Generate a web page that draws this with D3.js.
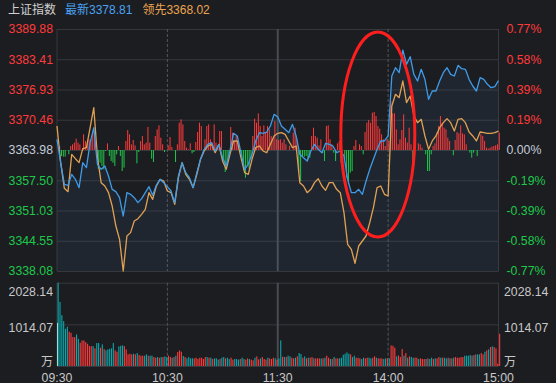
<!DOCTYPE html>
<html><head><meta charset="utf-8">
<script src="https://cdn.jsdelivr.net/npm/d3@7"></script>
<style>
html,body{margin:0;padding:0;background:#1c1d21;}
svg{display:block;}
text{font-family:"Liberation Sans",Arial,"Noto Sans CJK SC",sans-serif;}
</style></head><body>
<svg id="c" width="556" height="383"></svg>
<script>
// ---------- data ----------
const title = "上证指数";
const lastPrice = 3378.81;
const leadPrice = 3368.02;
const priceTicks = [3389.88,3383.41,3376.93,3370.46,3363.98,3357.50,3351.03,3344.55,3338.08];
const pctTicks = ["0.77%","0.58%","0.39%","0.19%","0.00%","-0.19%","-0.39%","-0.58%","-0.77%"];
const timeLabels = ["09:30","10:30","11:30","14:00","15:00"];
const timeTickMinutes = [0,60,120,180,240];
const volTicks = [2028.14,1014.07];
const volUnit = "万";
// price (最新) and lead (领先) every 2 trading minutes, t = 0,2,...,240
const price = [
3366.26,3361.27,3356.63,3356.42,3358.77,3357.70,3355.92,3361.27,3360.20,3365.55,
3368.76,3360.91,3359.84,3360.56,3358.41,3355.56,3355.06,3353.78,3349.85,3354.85,
3354.49,3353.78,3352.71,3353.56,3354.85,3356.13,3354.28,3356.42,3357.70,3356.99,
3356.13,3355.20,3352.71,3358.41,3361.27,3359.13,3358.06,3355.92,3359.13,3361.98,
3364.12,3365.19,3365.55,3363.77,3365.19,3362.34,3360.56,3363.77,3367.55,3366.98,
3363.41,3359.84,3360.91,3363.05,3365.91,3367.69,3367.55,3367.83,3369.12,3371.61,
3371.11,3369.12,3368.40,3367.69,3369.47,3366.98,3363.05,3362.34,3361.63,3363.77,
3365.19,3364.12,3363.41,3365.41,3365.19,3364.84,3363.41,3363.77,3362.70,3357.70,
3354.85,3354.85,3355.56,3354.49,3357.34,3359.84,3361.98,3364.12,3365.91,3365.91,
3366.98,3379.82,3381.60,3380.53,3385.38,3382.32,3383.96,3380.18,3378.75,3381.25,
3379.11,3374.82,3376.61,3376.61,3378.75,3380.53,3381.60,3380.18,3379.82,3382.10,
3381.39,3381.25,3379.11,3377.68,3376.61,3379.46,3379.11,3378.04,3377.32,3377.54,
3378.81];
const lead = [
3369.12,3361.27,3355.78,3355.06,3363.05,3362.12,3361.27,3364.27,3364.48,3368.76,
3373.04,3362.34,3356.99,3356.27,3354.85,3351.99,3347.71,3344.86,3338.08,3345.57,
3346.29,3348.78,3349.28,3350.21,3351.28,3354.85,3353.42,3356.27,3357.70,3357.34,
3355.20,3354.85,3352.35,3358.06,3361.27,3358.77,3357.70,3355.92,3358.77,3361.98,
3363.77,3364.84,3365.19,3363.41,3365.19,3361.63,3359.84,3363.05,3365.91,3365.91,
3362.34,3359.13,3358.77,3361.98,3364.48,3364.84,3363.77,3363.41,3365.19,3366.98,
3367.55,3367.69,3367.33,3365.91,3364.48,3364.84,3356.99,3356.27,3354.85,3355.56,
3356.99,3357.84,3356.27,3355.35,3356.99,3356.99,3355.56,3354.85,3350.57,3343.79,
3342.72,3339.72,3343.43,3344.50,3345.57,3348.43,3351.64,3355.92,3356.27,3354.49,
3354.13,3373.40,3375.90,3375.18,3378.75,3374.11,3375.54,3371.26,3369.83,3370.54,
3366.98,3364.12,3365.91,3366.98,3368.76,3369.83,3370.69,3369.83,3368.05,3370.54,
3370.69,3369.83,3367.83,3366.98,3365.91,3367.83,3367.69,3367.55,3367.55,3367.69,
3368.02];
// per-minute buy/sell strength bars (t = 0..240)
const momentum = [
0,12,-18,-20,-20,0,-13,12,17,22,
34,22,17,0,47,27,20,32,32,52,
42,-18,-56,-38,-48,-58,-3,20,-18,-33,
-38,-48,-13,12,-18,-63,-53,27,60,47,
17,30,14,-40,-6,27,42,17,22,69,
22,-26,-36,42,62,74,37,17,-6,0,
14,39,9,0,-36,17,82,92,77,27,
7,2,20,-10,-6,24,54,82,72,0,
32,72,77,32,22,77,22,12,57,57,
-28,-66,-48,-23,69,52,27,42,22,0,
-23,-60,-83,-48,-56,-28,42,94,82,110,
72,42,74,54,72,62,42,32,87,32,
30,32,22,32,17,0,12,0,52,67,
32,-66,-93,-18,-20,-18,-28,-23,42,67,
42,37,14,32,-10,-33,72,74,32,17,
-8,-33,20,27,-38,0,-28,-83,-103,-68,
-63,12,30,0,17,12,-13,54,82,90,
82,112,114,102,72,64,47,32,12,32,
27,147,110,110,62,17,32,60,107,37,
22,67,17,-33,12,0,20,17,7,0,
-13,-63,-63,-13,12,20,52,72,102,82,
67,62,37,27,0,-16,30,54,50,74,
50,47,17,0,-8,-23,-8,0,-18,0,
47,42,27,7,4,7,10,12,14,17,
52];
const momentumRange = 363;
// per-minute volume (万), t = 0..240
const auctionVolume = 1051;
const volume = [
2028,1561,1237,1092,906,954,833,809,704,704,
768,663,566,623,623,582,542,485,485,485,
429,558,558,445,526,412,380,404,421,429,
558,380,348,477,493,501,485,404,283,299,
283,299,283,315,267,251,251,251,283,251,
251,251,218,202,218,202,218,218,235,218,
251,218,202,218,251,340,380,348,243,218,
186,218,186,186,186,202,170,202,202,170,
218,218,202,202,170,186,186,154,170,202,
218,186,202,170,202,154,170,170,154,170,
202,170,154,186,170,154,137,202,235,162,
186,218,170,154,202,186,170,202,186,154,
186,623,226,218,218,251,235,202,186,202,
235,315,291,202,235,186,202,202,218,186,
186,186,186,186,186,202,251,202,170,170,
218,186,186,186,202,275,299,332,299,283,
218,251,202,202,186,170,202,186,202,202,
186,202,235,202,186,186,186,170,186,186,
186,501,493,445,235,259,218,412,251,315,
202,235,218,202,202,202,170,186,170,170,
170,186,170,202,170,186,186,218,202,202,
202,186,202,186,186,202,218,202,202,218,
218,251,251,251,267,251,267,283,283,283,
315,283,348,380,404,461,477,461,429,57,
784];
const volumeDir = (
"ggggggrrrr"+"ggrrrrrrrg"+"rggrgrgggg"+"grrgggrrrr"+"rgrgrrrggr"+
"ggrrgrgrgg"+"rrgrgrrrgr"+"ggggrrrrrr"+"rgrgrgggrg"+"grggrrgggr"+
"ggrrgrrgrr"+"grrrgrrrgr"+"ggrgrggrrg"+"rggrgrgrrg"+"rrrgrgrrgr"+
"grrggggggr"+"ggrrrggrrg"+"grrgrrrggr"+"grrrgrrrgr"+"grggrrgrrr"+
"grggrgrrgr"+"ggrgrgrrrr"+"rggggrgrgg"+"rrgrgrgrrr"+"r").split("");

// ---------- drawing ----------
const svg = d3.select("#c");
const L = 57, R = 498.5, T = 29, B = 271, VT = 282.7, VB = 366;
const x = d3.scaleLinear().domain([0,240]).range([L,R]);
const y = d3.scaleLinear().domain([priceTicks[8],priceTicks[0]]).range([B,T]);
const yPct = d3.scalePoint().domain(pctTicks).range([T,B]);
const yM = d3.scaleLinear().domain([-momentumRange,momentumRange]).range([B,T]);
const yV = d3.scaleLinear().domain([0,volTicks[0]]).range([VB,VT]);
const colUp="#ff3a3a", colDn="#1ec84b", colMid="#c3cbd8", gridC="#37383d";
const fs = "12.3px";

// header
const hdr = svg.append("text").attr("x",8).attr("y",14).style("font-size","12px");
hdr.append("tspan").attr("fill","#d0d0d0").text(title);
hdr.append("tspan").attr("dx",9).attr("fill","#4aa2f0").text("最新"+lastPrice.toFixed(2));
hdr.append("tspan").attr("dx",10).attr("fill","#eaa550").text("领先"+leadPrice.toFixed(2));

// horizontal grid (main)
const gGrid = svg.append("g").attr("transform",`translate(${L},0)`)
  .call(d3.axisRight(y).tickValues(priceTicks).tickSize(R-L).tickFormat(""));
gGrid.select(".domain").remove();
gGrid.selectAll("line").attr("stroke",gridC).attr("stroke-width",1);

// volume grid
const gVGrid = svg.append("g").attr("transform",`translate(${L},0)`)
  .call(d3.axisRight(yV).tickValues(volTicks.concat([0])).tickSize(R-L).tickFormat(""));
gVGrid.select(".domain").remove();
gVGrid.selectAll("line").attr("stroke",gridC).attr("stroke-width",1);

// vertical lines
[[T,B],[VT,VB]].forEach(([a,b])=>{
  timeTickMinutes.forEach((m,i)=>{
    const xx = x(m);
    const ln = svg.append("line").attr("x1",xx).attr("x2",xx).attr("y1",a).attr("y2",b);
    if(i===0||i===4){ ln.attr("stroke",gridC).attr("stroke-width",1); }
    else if(i===2){ ln.attr("stroke","#4a4b50").attr("stroke-width",2); }
    else { ln.attr("stroke","#55565c").attr("stroke-width",1).attr("stroke-dasharray","3,2"); }
  });
});

// area under price line
const tPrice = price.map((d,i)=>i*2);
svg.append("path").datum(price)
  .attr("d", d3.area().x((d,i)=>x(tPrice[i])).y0(B).y1(d=>y(d)))
  .attr("fill","rgba(70,120,180,0.10)");

// momentum bars
svg.append("g").selectAll("rect").data(momentum).join("rect")
  .attr("x",(d,i)=>x(i)+0.3).attr("width",1)
  .attr("y",d=>yM(Math.max(0,d))).attr("height",d=>Math.abs(yM(d)-yM(0)))
  .attr("fill",d=>d>=0?colUp:colDn);

// lines
const line = d3.line().x((d,i)=>x(tPrice[i])).y(d=>y(d));
svg.append("path").datum(lead).attr("d",line).attr("fill","none")
  .attr("stroke","#e0a153").attr("stroke-width",1.3).attr("stroke-linejoin","round");
svg.append("path").datum(price).attr("d",line).attr("fill","none")
  .attr("stroke","#3f9be8").attr("stroke-width",1.3).attr("stroke-linejoin","round");

// volume bars
svg.append("rect").attr("x",x(0)).attr("width",1).attr("y",yV(auctionVolume))
  .attr("height",yV(0)-yV(auctionVolume)).attr("fill","#ffffff");
svg.append("g").selectAll("rect").data(volume).join("rect")
  .attr("x",(d,i)=>x(i)+0.6).attr("width",1.1)
  .attr("y",d=>yV(d)).attr("height",d=>yV(0)-yV(d))
  .attr("fill",(d,i)=>volumeDir[i]==="r"?"#ff3b3b":"#0aa8ab");

// left price axis labels
const gL = svg.append("g").attr("transform",`translate(53,0)`)
  .call(d3.axisLeft(y).tickValues(priceTicks).tickSize(0).tickPadding(0).tickFormat(d3.format(".2f")));
gL.select(".domain").remove();
gL.selectAll("text").style("font-size",fs).style("font-family",null)
  .attr("fill",(d,i)=>i<4?colUp:(i===4?colMid:colDn));

// right pct labels
const gR = svg.append("g").attr("transform",`translate(506.5,0)`)
  .call(d3.axisRight(yPct).tickSize(0).tickPadding(0));
gR.select(".domain").remove();
gR.selectAll("text").style("font-size",fs).style("font-family",null)
  .attr("fill",(d,i)=>i<4?colUp:(i===4?colMid:colDn));

// volume labels
const volLabelY = [292,328];
volTicks.forEach((v,i)=>{
  svg.append("text").attr("x",53).attr("y",volLabelY[i]).attr("dy","0.35em")
    .attr("text-anchor","end").attr("fill","#c8c8c8").style("font-size",fs).text(v.toFixed(2));
  svg.append("text").attr("x",504).attr("y",volLabelY[i]).attr("dy","0.35em")
    .attr("fill","#c8c8c8").style("font-size",fs).text(v.toFixed(2));
});
svg.append("text").attr("x",53).attr("y",362).attr("dy","0.35em").attr("text-anchor","end")
  .attr("fill","#c8c8c8").style("font-size","12px").style("font-family","Noto Sans CJK SC").text(volUnit);
svg.append("text").attr("x",504).attr("y",362).attr("dy","0.35em")
  .attr("fill","#c8c8c8").style("font-size","12px").style("font-family","Noto Sans CJK SC").text(volUnit);

// time axis
const xt = d3.scaleOrdinal().domain(timeLabels).range(timeTickMinutes.map(m=>x(m)));
const gT = svg.append("g").attr("transform","translate(0,381.5)")
  .call(d3.axisBottom(d3.scalePoint().domain(timeLabels).range([x(0),x(240)]))
    .tickSize(0).tickPadding(0));
gT.select(".domain").remove();
gT.selectAll(".tick").attr("transform",d=>`translate(${xt(d)},0)`);
gT.selectAll("text").style("font-size",fs).style("font-family",null).attr("fill","#c8c8c8")
  .attr("dy",null).attr("y",0);

// red annotation ellipse
svg.append("ellipse").attr("cx",377.8).attr("cy",134.5).attr("rx",37).attr("ry",102.5)
  .attr("fill","none").attr("stroke","#ff1e1e").attr("stroke-width",3);
</script>
</body></html>
